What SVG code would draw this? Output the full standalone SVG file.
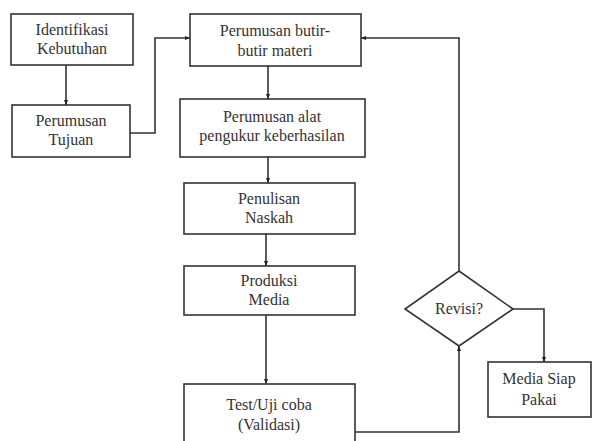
<svg xmlns="http://www.w3.org/2000/svg" width="593" height="441" viewBox="0 0 593 441">
<style>
.box{fill:#fff;stroke:#333;stroke-width:1.6}
.t{font-size:16px;fill:#333;text-anchor:middle}
.c{fill:none;stroke:#333;stroke-width:1.6}
</style>
<defs>
<marker id="a" viewBox="0 0 10 10" refX="10" refY="5" markerWidth="5" markerHeight="5" orient="auto" markerUnits="userSpaceOnUse">
<path d="M0,1 L10,5 L0,9 z" fill="#222"/>
</marker>
</defs>
<rect width="593" height="441" fill="#fff"/>
<g id="connectors">
<path class="c" d="M66,65 V105" marker-end="url(#a)"/>
<path class="c" d="M130,133 H155 V38 H190" marker-end="url(#a)"/>
<path class="c" d="M268,66 V99" marker-end="url(#a)"/>
<path class="c" d="M268,157 V183" marker-end="url(#a)"/>
<path class="c" d="M266,234 V266" marker-end="url(#a)"/>
<path class="c" d="M266,315 V384" marker-end="url(#a)"/>
<path class="c" d="M355,432 H459 V346" marker-end="url(#a)"/>
<path class="c" d="M459,271 V38 H361" marker-end="url(#a)"/>
<path class="c" d="M513,309 H544 V362" marker-end="url(#a)"/>
</g>
<g font-family="Liberation Serif, DejaVu Serif, serif">
<g id="identifikasi">
<rect class="box" x="11" y="14" width="122" height="51"/>
<text class="t" x="72" y="35">Identifikasi</text>
<text class="t" x="72" y="54">Kebutuhan</text>
</g>
<g id="tujuan">
<rect class="box" x="12" y="105" width="118" height="52"/>
<text class="t" x="71" y="126">Perumusan</text>
<text class="t" x="71" y="145">Tujuan</text>
</g>
<g id="butir">
<rect class="box" x="190" y="14" width="171" height="52"/>
<text class="t" x="275" y="36">Perumusan butir-</text>
<text class="t" x="275" y="56">butir materi</text>
</g>
<g id="alat">
<rect class="box" x="180" y="99" width="185" height="58"/>
<text class="t" x="272" y="122">Perumusan alat</text>
<text class="t" x="272" y="141">pengukur keberhasilan</text>
</g>
<g id="naskah">
<rect class="box" x="184" y="183" width="171" height="51"/>
<text class="t" x="269" y="204">Penulisan</text>
<text class="t" x="269" y="223">Naskah</text>
</g>
<g id="produksi">
<rect class="box" x="184" y="266" width="171" height="49"/>
<text class="t" x="269" y="286">Produksi</text>
<text class="t" x="269" y="305">Media</text>
</g>
<g id="test">
<rect class="box" x="184" y="384" width="171" height="62"/>
<text class="t" x="269" y="410">Test/Uji coba</text>
<text class="t" x="269" y="430">(Validasi)</text>
</g>
<g id="revisi">
<polygon class="box" points="459,271 513,309 459,346 405,309"/>
<text class="t" x="459" y="314">Revisi?</text>
</g>
<g id="siap">
<rect class="box" x="488" y="362" width="103" height="55"/>
<text class="t" x="539" y="384">Media Siap</text>
<text class="t" x="539" y="405">Pakai</text>
</g>
</g>
</svg>
